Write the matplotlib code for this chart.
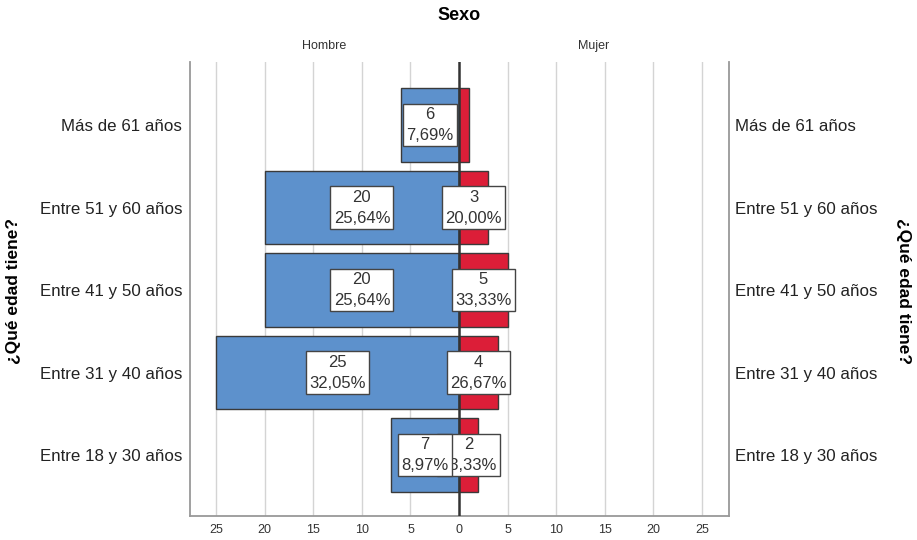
import matplotlib.pyplot as plt

plt.rcParams['font.family'] = ['Liberation Sans', 'DejaVu Sans']

# age groups, bottom to top
edades = ['Entre 18 y 30 años', 'Entre 31 y 40 años', 'Entre 41 y 50 años',
          'Entre 51 y 60 años', 'Más de 61 años']
hombres = [7, 25, 20, 20, 6]
mujeres = [2, 4, 5, 3, 1]
mostrar_mujeres = [True, True, True, True, False]
ticks = [-25, -20, -15, -10, -5, 0, 5, 10, 15, 20, 25]

azul = '#5d91cc'
rojo = '#dc1e38'
borde = '#3a3a3a'

fig = plt.figure(figsize=(9.17, 5.40), dpi=100)
ax = fig.add_axes([190/917, 1 - 516/540, (729 - 190)/917, (516 - 62)/540])

y = list(range(len(edades)))
ax.barh(y, [-h for h in hombres], height=0.89, color=azul, edgecolor=borde, linewidth=1, zorder=2)
ax.barh(y, mujeres, height=0.89, color=rojo, edgecolor=borde, linewidth=1, zorder=2)

ax.set_xlim(-27.7, 27.8)
ax.set_ylim(-0.74, 4.765)
ax.set_xticks(ticks)
ax.set_xticklabels([str(abs(t)) for t in ticks], fontsize=9, color='#333333')
ax.set_yticks(y)
ax.set_yticklabels(edades, fontsize=12.2, color='#222222')
ax.tick_params(axis='x', length=0, pad=6)
ax.tick_params(axis='y', length=0, pad=5.5)

for t in ticks:
    if t != 0:
        ax.axvline(t, color='#d4d4d4', linewidth=1, zorder=1)
ax.axvline(0, color='#333333', linewidth=1.8, zorder=3)

for side in ['left', 'right', 'bottom']:
    ax.spines[side].set_color('#999999')
    ax.spines[side].set_linewidth(1.3)
ax.spines['top'].set_visible(False)

# same category labels repeated on the right
ax2 = ax.twinx()
ax2.set_ylim(ax.get_ylim())
ax2.set_yticks(y)
ax2.set_yticklabels(edades, fontsize=12.2, color='#222222')
ax2.tick_params(axis='y', length=0, pad=4.3)
for side in ['left', 'right', 'bottom', 'top']:
    ax2.spines[side].set_visible(False)

caja = dict(boxstyle='square,pad=0.2', facecolor='white', edgecolor='#444444', linewidth=1)
total_m = sum(mujeres)
total_h = sum(hombres)
for i, v in enumerate(mujeres):
    if mostrar_mujeres[i]:
        txt = f'{v}\n{100 * v / total_m:.2f}%'.replace('.', ',')
        ax.text(v / 2, i, txt, ha='center', va='center', fontsize=12, color='#333333',
                linespacing=1.5, bbox=caja, zorder=4)
for i, v in enumerate(hombres):
    txt = f'{v}\n{100 * v / total_h:.2f}%'.replace('.', ',')
    ax.text(-v / 2, i, txt, ha='center', va='center', fontsize=12, color='#333333',
            linespacing=1.5, bbox=caja, zorder=5)

fig.text(459/917, 1 - 15/540, 'Sexo', ha='center', va='center', fontsize=13, fontweight='bold')
fig.text(324.5/917, 1 - 46/540, 'Hombre', ha='center', va='center', fontsize=9, color='#333333')
fig.text(594/917, 1 - 46/540, 'Mujer', ha='center', va='center', fontsize=9, color='#333333')
fig.text(14/917, 1 - 291/540, '¿Qué edad tiene?', ha='center', va='center', rotation=90,
         fontsize=12.5, fontweight='bold')
fig.text(903/917, 1 - 291/540, '¿Qué edad tiene?', ha='center', va='center', rotation=-90,
         fontsize=12.5, fontweight='bold')

fig.savefig('out.png', dpi=100)
